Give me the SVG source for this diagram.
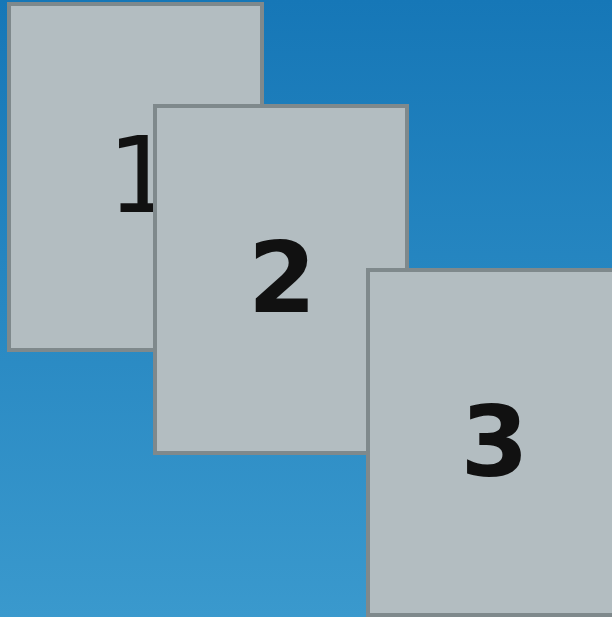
<svg xmlns="http://www.w3.org/2000/svg" width="612" height="617" viewBox="0 0 612 617">
<defs>
<linearGradient id="bg" x1="0" y1="0" x2="0" y2="1">
<stop offset="0" stop-color="#1677b7"/>
<stop offset="1" stop-color="#3a99cd"/>
</linearGradient>
</defs>
<style>
.card{fill:#b3bdc1;stroke:#7f898c;stroke-width:4}
.num{fill:#111111;text-anchor:middle;font-family:"DejaVu Sans",sans-serif}
.bold{font-weight:bold;font-size:98px}
</style>
<rect x="0" y="0" width="612" height="617" fill="url(#bg)"/>
<g id="node1">
<rect class="card" x="9" y="4" width="253" height="346"/>
<text class="num" x="141" y="212" font-size="105">1</text>
</g>
<g id="node2">
<rect class="card" x="155" y="106" width="252" height="347"/>
<text class="num bold" x="282" y="312">2</text>
</g>
<g id="node3">
<rect class="card" x="368" y="270" width="253" height="345"/>
<text class="num bold" x="494.5" y="476">3</text>
</g>
<g id="connectors"/>
</svg>
